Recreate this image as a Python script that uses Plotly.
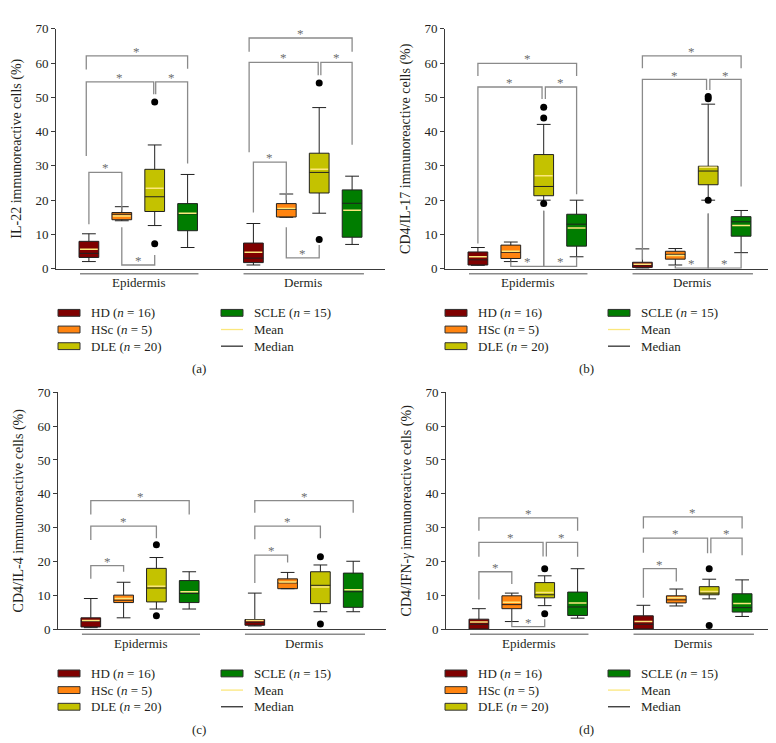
import plotly.graph_objects as go

W, H = 776, 743
FONT = "Liberation Serif"

GROUPS = ["HD", "HSc", "DLE", "SCLE"]
GROUP_N = [16, 5, 20, 15]
COLORS = ["#7f0000", "#ff8410", "#c4c200", "#007d00"]
SITES = ["Epidermis", "Dermis"]
POS_EPI = [1, 2, 3, 4]
POS_DER = [6, 7, 8, 9]

# ---------- (a) IL-22 : per group [epidermis, dermis]
IL22_LOW = [[2.1, 1.1], [14.0, 15.0], [12.6, 16.2], [6.2, 7.1]]
IL22_Q1 = [[3.3, 1.8], [14.3, 15.1], [16.7, 22.1], [11.1, 9.2]]
IL22_MED = [[4.5, 3.1], [15.9, 17.3], [21.0, 28.1], [16.0, 19.1]]
IL22_Q3 = [[8.0, 7.5], [16.4, 19.0], [29.0, 33.7], [19.0, 23.0]]
IL22_UP = [[10.2, 13.2], [18.1, 21.8], [36.1, 47.0], [27.5, 27.0]]
IL22_MEAN = [[5.7, 4.8], [15.4, 17.6], [23.5, 29.0], [16.2, 17.1]]
IL22_OUT = [[[], []], [[], []], [[48.6, 7.3], [54.2, 8.5]], [[], []]]
# brackets: x1, x2, line y, left leg end, right leg end
IL22_BR = [[1.0, 2.0, 28.1, 13.0, 17.0], [2.0, 3.0, 1.1, 12.1, 4.0],
           [0.92, 2.97, 54.5, 32.9, 50.9], [3.03, 4.0, 54.5, 50.9, 30.7],
           [0.92, 4.0, 62.1, 58.1, 58.3],
           [6.0, 7.0, 31.1, 16.4, 20.0], [7.0, 8.0, 3.2, 12.1, 6.9],
           [5.87, 7.97, 60.2, 34.0, 56.4], [8.05, 9.0, 60.2, 56.4, 36.2],
           [5.87, 9.0, 67.3, 63.3, 63.3]]

# ---------- (b) CD4/IL-17
IL17_LOW = [[1.0, 0.2], [2.1, 1.1], [20.0, 20.0], [3.5, 4.7]]
IL17_Q1 = [[1.1, 0.4], [3.0, 2.8], [21.3, 24.5], [6.6, 9.5]]
IL17_MED = [[2.6, 1.1], [4.8, 4.2], [24.0, 28.5], [13.0, 13.7]]
IL17_Q3 = [[4.9, 1.9], [6.9, 5.1], [33.3, 29.9], [15.9, 15.2]]
IL17_UP = [[6.2, 5.8], [7.8, 5.9], [42.1, 48.0], [20.0, 17.0]]
IL17_MEAN = [[3.5, 1.3], [5.1, 3.9], [27.1, 29.6], [11.9, 12.6]]
IL17_OUT = [[[], []], [[], []], [[47.1, 44.0, 19.0], [50.2, 49.6, 20.0]], [[], []]]
IL17_BR = [[1.0, 4.0, 59.9, 56.2, 56.2], [1.0, 2.95, 53.0, 7.4, 49.5],
           [3.05, 4.0, 53.0, 49.5, 21.7], [2.0, 3.0, 0.7, 2.1, 16.9],
           [3.0, 4.0, 0.7, 16.9, 3.5],
           [6.0, 9.0, 62.1, 58.5, 58.5], [6.0, 7.95, 55.2, 2.6, 52.1],
           [8.05, 9.0, 55.2, 52.1, 24.0], [7.0, 8.0, 0.2, 1.1, 16.1],
           [8.0, 9.0, 0.2, 16.1, 4.7]]

# ---------- (c) CD4/IL-4
IL4_LOW = [[0.5, 1.0], [3.4, 12.0], [6.0, 5.2], [6.0, 5.2]]
IL4_Q1 = [[0.7, 1.2], [7.9, 12.0], [8.1, 7.6], [7.9, 6.5]]
IL4_MED = [[2.4, 2.1], [8.6, 13.7], [12.2, 13.0], [10.6, 11.1]]
IL4_Q3 = [[3.4, 2.9], [10.1, 14.9], [18.0, 17.0], [14.4, 16.6]]
IL4_UP = [[9.1, 10.7], [13.9, 16.8], [21.2, 19.0], [17.0, 20.1]]
IL4_MEAN = [[2.6, 2.6], [9.1, 14.0], [12.7, 12.5], [11.1, 11.7]]
IL4_OUT = [[[], []], [[], []], [[25.0, 4.0], [21.4, 1.6]], [[], []]]
IL4_BR = [[1.0, 2.0, 18.8, 14.9, 17.0], [1.0, 3.0, 30.5, 26.4, 26.9],
          [1.0, 4.0, 38.0, 33.9, 33.9],
          [6.0, 7.0, 21.9, 13.7, 19.7], [6.0, 8.0, 30.5, 26.6, 26.9],
          [6.0, 9.0, 38.0, 34.4, 34.4]]

# ---------- (d) CD4/IFN-gamma
IFN_LOW = [[0.0, 0.0], [2.3, 6.9], [7.0, 9.0], [3.3, 3.8]]
IFN_Q1 = [[0.1, 0.1], [6.1, 7.8], [9.3, 10.2], [4.1, 5.1]]
IFN_MED = [[1.5, 1.5], [7.3, 8.7], [10.2, 10.7], [6.6, 6.4]]
IFN_Q3 = [[3.0, 4.0], [9.9, 9.9], [13.8, 12.6], [11.0, 10.5]]
IFN_UP = [[6.1, 7.1], [10.7, 11.9], [15.8, 14.8], [17.9, 14.6]]
IFN_MEAN = [[2.2, 2.3], [8.0, 9.3], [10.9, 11.2], [7.8, 7.6]]
IFN_OUT = [[[], []], [[], []], [[17.9, 4.6], [17.9, 1.1]], [[], []]]
IFN_BR = [[1.0, 2.0, 17.0, 8.8, 13.4], [2.0, 3.0, 0.8, 2.3, 3.0],
          [1.0, 2.95, 25.7, 21.4, 21.5], [3.05, 4.0, 25.7, 21.5, 21.4],
          [1.0, 4.0, 32.9, 29.1, 29.1],
          [6.0, 7.0, 17.9, 9.3, 14.1], [6.0, 7.95, 26.9, 22.6, 22.5],
          [8.05, 9.0, 26.9, 22.5, 21.9], [6.0, 9.0, 33.2, 29.8, 29.8]]

Y_TITLES = ["IL-22 immunoreactive cells (%)",
            "CD4/IL-17 immunoreactive cells (%)",
            "CD4/IL-4 immunoreactive cells (%)",
            "CD4/IFN-<i>γ</i> immunoreactive cells (%)"]
PANEL_LABELS = ["(a)", "(b)", "(c)", "(d)"]
Y_TICKS = [0, 10, 20, 30, 40, 50, 60, 70]

PANELS = [
    (IL22_LOW, IL22_Q1, IL22_MED, IL22_Q3, IL22_UP, IL22_MEAN, IL22_OUT, IL22_BR),
    (IL17_LOW, IL17_Q1, IL17_MED, IL17_Q3, IL17_UP, IL17_MEAN, IL17_OUT, IL17_BR),
    (IL4_LOW, IL4_Q1, IL4_MED, IL4_Q3, IL4_UP, IL4_MEAN, IL4_OUT, IL4_BR),
    (IFN_LOW, IFN_Q1, IFN_MED, IFN_Q3, IFN_UP, IFN_MEAN, IFN_OUT, IFN_BR),
]

# layout geometry in pixels: (x left, x right, y top, y bottom)
GEOM = [(48, 377, 14, 259), (437, 766, 14, 259),
        (50, 378, 385, 627), (438, 767, 385, 627)]
LEG_OFF = [(0, 0), (387, 0), (0, 368), (387, 368)]

BOX_W = 0.6
BR_COLOR = "#8a8a8a"
AX_COLOR = "#3a3a3a"
MEAN_COLOR = "#fbe77c"
TXT = "#231f20"

def px(x):
    return x / W

def py(y):
    return 1 - y / H

fig = go.Figure()
shapes = []
annotations = []
layout = {}

for i, (low, q1, med, q3, up, mean, outs, brs) in enumerate(PANELS):
    sfx = "" if i == 0 else str(i + 1)
    xa, ya = "x" + sfx, "y" + sfx
    positions = [[POS_EPI[g], POS_DER[g]] for g in range(4)]
    for g in range(4):
        fig.add_trace(go.Box(
            x=positions[g], q1=q1[g], median=med[g], q3=q3[g],
            lowerfence=low[g], upperfence=up[g],
            xaxis=xa, yaxis=ya, fillcolor=COLORS[g],
            line=dict(color="#202020", width=1), width=BOX_W,
            whiskerwidth=0.7, boxpoints=False, showlegend=False,
            hoverinfo="skip"))
    # mean lines
    mx, my = [], []
    for g in range(4):
        for s in range(2):
            p = positions[g][s]
            mx += [p - BOX_W / 2 + 0.03, p + BOX_W / 2 - 0.03, None]
            my += [mean[g][s], mean[g][s], None]
    fig.add_trace(go.Scatter(x=mx, y=my, mode="lines", xaxis=xa, yaxis=ya,
                             line=dict(color=MEAN_COLOR, width=1.5),
                             showlegend=False, hoverinfo="skip"))
    # outliers
    ox, oy = [], []
    for g in range(4):
        for s in range(2):
            for v in outs[g][s]:
                ox.append(positions[g][s])
                oy.append(v)
    fig.add_trace(go.Scatter(x=ox, y=oy, mode="markers", xaxis=xa, yaxis=ya,
                             marker=dict(color="black", size=7),
                             showlegend=False, hoverinfo="skip", cliponaxis=False))
    # brackets
    bx, by = [], []
    for x1, x2, yl, e1, e2 in brs:
        bx += [x1, x1, x2, x2, None]
        by += [e1, yl, yl, e2, None]
        annotations.append(dict(text="*", xref=xa, yref=ya, x=(x1 + x2) / 2,
                                y=yl + 1.3, showarrow=False, xanchor="center",
                                yanchor="middle",
                                font=dict(family=FONT, size=13, color="#6e6e6e")))
    fig.add_trace(go.Scatter(x=bx, y=by, mode="lines", xaxis=xa, yaxis=ya,
                             line=dict(color=BR_COLOR, width=1.3),
                             showlegend=False, hoverinfo="skip", cliponaxis=False))

    xl, xr, yt, yb = GEOM[i]
    key_x = "xaxis" if i == 0 else f"xaxis{i+1}"
    key_y = "yaxis" if i == 0 else f"yaxis{i+1}"
    layout[key_x] = dict(domain=[px(xl), px(xr)], range=[0, 10], anchor=ya,
                         showline=True, linecolor=AX_COLOR, linewidth=1,
                         showticklabels=False, ticks="", showgrid=False,
                         zeroline=False, fixedrange=True)
    layout[key_y] = dict(domain=[py(yb), py(yt)], range=[0, 70], anchor=xa,
                         showline=True, linecolor=AX_COLOR, linewidth=1,
                         ticks="outside", ticklen=4, tickcolor=AX_COLOR,
                         tickvals=Y_TICKS, showgrid=False, zeroline=False,
                         tickfont=dict(family=FONT, size=13, color=TXT),
                         title=dict(text=Y_TITLES[i], standoff=10,
                                    font=dict(family=FONT, size=14, color=TXT)),
                         fixedrange=True)
    # site underline + labels
    for s, (a0, a1, c) in enumerate([(0.73, 4.33, 2.5), (5.7, 9.36, 7.5)]):
        shapes.append(dict(type="line", xref=xa, yref="paper", x0=a0, x1=a1,
                           y0=py(yb + 5), y1=py(yb + 5),
                           line=dict(color="#8a8a8a", width=1.5)))
        annotations.append(dict(text=SITES[s], xref=xa, yref="paper", x=c,
                                y=py(yb + 14), showarrow=False, xanchor="center",
                                yanchor="middle",
                                font=dict(family=FONT, size=13, color=TXT)))
    # legend
    ox_, oy_ = LEG_OFF[i]
    rows = [304, 321, 338]
    for g in range(3):
        y = rows[g] + oy_
        shapes.append(dict(type="rect", xref="paper", yref="paper",
                           x0=px(50 + ox_), x1=px(72 + ox_),
                           y0=py(y + 3.5), y1=py(y - 3.5),
                           fillcolor=COLORS[g], line=dict(color="#303030", width=1)))
        annotations.append(dict(text=f"{GROUPS[g]} (<i>n</i> = {GROUP_N[g]})",
                                xref="paper", yref="paper", x=px(81 + ox_), y=py(y),
                                showarrow=False, xanchor="left", yanchor="middle",
                                font=dict(family=FONT, size=13, color=TXT)))
    y = rows[0] + oy_
    shapes.append(dict(type="rect", xref="paper", yref="paper",
                       x0=px(213 + ox_), x1=px(235 + ox_),
                       y0=py(y + 3.5), y1=py(y - 3.5),
                       fillcolor=COLORS[3], line=dict(color="#303030", width=1)))
    annotations.append(dict(text=f"{GROUPS[3]} (<i>n</i> = {GROUP_N[3]})",
                            xref="paper", yref="paper", x=px(244 + ox_), y=py(y),
                            showarrow=False, xanchor="left", yanchor="middle",
                            font=dict(family=FONT, size=13, color=TXT)))
    for r, (lbl, col) in enumerate([("Mean", MEAN_COLOR), ("Median", "#303030")]):
        y = rows[r + 1] + oy_
        shapes.append(dict(type="line", xref="paper", yref="paper",
                           x0=px(213 + ox_), x1=px(235 + ox_), y0=py(y), y1=py(y),
                           line=dict(color=col, width=1.3)))
        annotations.append(dict(text=lbl, xref="paper", yref="paper",
                                x=px(244 + ox_), y=py(y), showarrow=False,
                                xanchor="left", yanchor="middle",
                                font=dict(family=FONT, size=13, color=TXT)))
    annotations.append(dict(text=PANEL_LABELS[i], xref="paper", yref="paper",
                            x=px(191 + ox_), y=py(361 + oy_), showarrow=False,
                            xanchor="center", yanchor="middle",
                            font=dict(family=FONT, size=13, color=TXT)))

fig.update_layout(width=W, height=H, margin=dict(l=0, r=0, t=0, b=0),
                  paper_bgcolor="white", plot_bgcolor="white",
                  showlegend=False, boxmode="overlay",
                  shapes=shapes, annotations=annotations, **layout)
fig.write_html("out.html")
